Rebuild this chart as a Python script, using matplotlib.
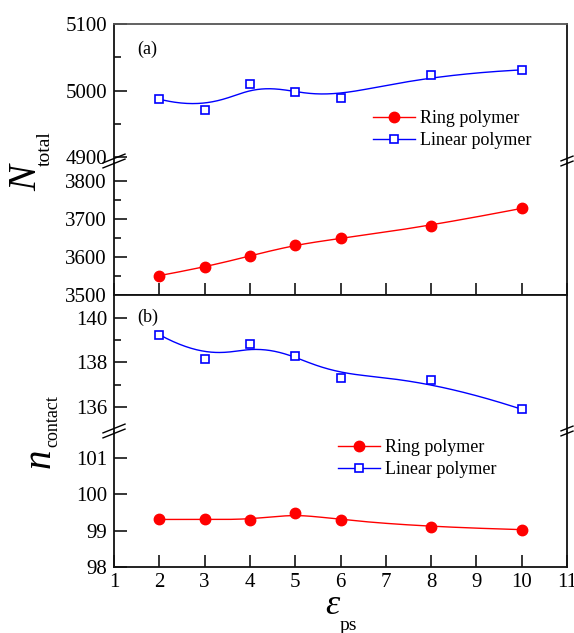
import numpy as np
import matplotlib
matplotlib.use("Agg")
import matplotlib.pyplot as plt
from matplotlib.lines import Line2D

# ---------------- data ----------------
eps_ps = [2, 3, 4, 5, 6, 8, 10]
ntotal_ring = [3551, 3573, 3603, 3632, 3649, 3682, 3728]
ntotal_linear = [4987, 4970, 5010, 4998, 4989, 5024, 5031]
ncontact_ring = [99.31, 99.31, 99.29, 99.48, 99.29, 99.10, 99.03]
ncontact_linear = [139.25, 138.14, 138.82, 138.31, 137.32, 137.23, 135.90]

xticks = list(range(1, 12))
a_up_ticks = [4900, 5000, 5100]
a_lo_ticks = [3500, 3600, 3700, 3800]
b_up_ticks = [136, 138, 140]
b_lo_ticks = [98, 99, 100, 101]

plt.rcParams['font.family'] = ['Liberation Serif', 'DejaVu Serif']

W, H = 574, 633
fig = plt.figure(figsize=(W / 100, H / 100), dpi=100)


def fx(px):
    return px / W


def fy(py):
    return 1 - py / H


L, R = 114, 567
def make_ax(top, bottom):
    return fig.add_axes([fx(L), fy(bottom), fx(R) - fx(L), fy(top) - fy(bottom)])


a_up = make_ax(24, 163)
a_lo = make_ax(163, 295)
b_up = make_ax(295, 432)
b_lo = make_ax(432, 567)


def bspline(xs, ys, n=300):
    P = np.column_stack([xs, ys]).astype(float)
    k = 3
    m = len(P)
    knots = np.concatenate([[0] * k, np.arange(m - k + 1), [m - k] * k]).astype(float)
    t = np.linspace(0, m - k, n)
    t[-1] -= 1e-9

    def basis(i, d):
        if d == 0:
            return ((knots[i] <= t) & (t < knots[i + 1])).astype(float)
        out = np.zeros_like(t)
        den1 = knots[i + d] - knots[i]
        den2 = knots[i + d + 1] - knots[i + 1]
        if den1 > 0:
            out += (t - knots[i]) / den1 * basis(i, d - 1)
        if den2 > 0:
            out += (knots[i + d + 1] - t) / den2 * basis(i + 1, d - 1)
        return out

    B = np.array([basis(i, k) for i in range(m)])
    C = B.T @ P
    return C[:, 0], C[:, 1]


RED = '#ff0000'
BLUE = '#0000ff'
ring_kw = dict(marker='o', ms=7.5, color=RED, mfc=RED, mec=RED, ls='none', zorder=3)
lin_kw = dict(marker='s', ms=5.2, color=BLUE, mfc='white', mec=BLUE, mew=1.2, ls='none', zorder=3)


def plot_series(ax, x, y, kw, color):
    cx, cy = bspline(x, y)
    ax.plot(cx, cy, color=color, lw=1.0, zorder=2)
    ax.plot(x, y, **kw)


plot_series(a_up, eps_ps, ntotal_linear, lin_kw, BLUE)
plot_series(a_lo, eps_ps, ntotal_ring, ring_kw, RED)
plot_series(b_up, eps_ps, ncontact_linear, lin_kw, BLUE)
plot_series(b_lo, eps_ps, ncontact_ring, ring_kw, RED)

a_up.set_ylim(4891, 5100)
a_lo.set_ylim(3500, 3847.4)
b_up.set_ylim(134.88, 141.03)
b_lo.set_ylim(98, 101.72)

SP = 1.3
for ax in (a_up, a_lo, b_up, b_lo):
    ax.set_xlim(1, 11)
    for s in ax.spines.values():
        s.set_linewidth(SP)
        s.set_color('#111111')
    ax.tick_params(axis='y', which='major', direction='in', length=9, width=1.1,
                   labelsize=15, pad=5, right=False)
    ax.tick_params(axis='y', which='minor', direction='in', length=5, width=1.1, right=False)
    ax.tick_params(axis='x', which='major', direction='in', length=9, width=1.1,
                   labelsize=15, pad=4, top=False)

a_up.spines['bottom'].set_visible(False)
a_lo.spines['top'].set_visible(False)
b_up.spines['bottom'].set_visible(False)
b_lo.spines['top'].set_visible(False)
a_up.spines['top'].set_color('#555555')

a_up.set_yticks(a_up_ticks)
a_up.set_yticks([4950, 5050], minor=True)
a_lo.set_yticks(a_lo_ticks)
a_lo.set_yticks([3550, 3650, 3750], minor=True)
b_up.set_yticks(b_up_ticks)
b_up.set_yticks([137, 139], minor=True)
b_lo.set_yticks(b_lo_ticks)

for ax in (a_up, b_up):
    ax.set_xticks([])
a_lo.set_xticks(xticks)
a_lo.set_xticklabels([])
b_lo.set_xticks(xticks)
b_lo.set_xticklabels([str(v) for v in xticks])

# panel labels
a_up.text(fx(137), fy(49), '(a)', transform=fig.transFigure, fontsize=13, va='center', ha='left')
b_up.text(fx(137), fy(317), '(b)', transform=fig.transFigure, fontsize=13, va='center', ha='left')

# legends
handles = [Line2D([], [], lw=1.0, **{k: v for k, v in ring_kw.items() if k not in ('ls', 'zorder')}),
           Line2D([], [], lw=1.0, **{k: v for k, v in lin_kw.items() if k not in ('ls', 'zorder')})]
labels = ['Ring polymer', 'Linear polymer']
leg_kw = dict(loc='upper left', frameon=False, fontsize=13, borderpad=0, borderaxespad=0,
              handlelength=2.3, handletextpad=0.3, labelspacing=0.3, numpoints=1)
a_up.legend(handles, labels, bbox_to_anchor=(fx(373), fy(110)), bbox_transform=fig.transFigure, **leg_kw)
b_lo.legend(handles, labels, bbox_to_anchor=(fx(338), fy(439)), bbox_transform=fig.transFigure, **leg_kw)

# break marks
def brk(ycen, x, half):
    for dy in (-2.5, 2.5):
        fig.add_artist(Line2D([fx(x - half), fx(x + half)],
                              [fy(ycen + dy + half * 0.4), fy(ycen + dy - half * 0.4)],
                              color='black', lw=1.0, transform=fig.transFigure))

brk(161, L, 11)
brk(161, R, 6)
brk(431, L, 11)
brk(431, R, 6)

# axis labels
fig.text(fx(27), fy(178), 'N', rotation=90, fontsize=28, style='italic', ha='center', va='center')
fig.text(fx(45), fy(149), 'total', rotation=90, fontsize=14, ha='center', va='center')
fig.text(fx(40), fy(458), 'n', rotation=90, fontsize=28, style='italic', ha='center', va='center')
fig.text(fx(53), fy(421), 'contact', rotation=90, fontsize=13, ha='center', va='center')
fig.text(fx(332), fy(605), 'ε', fontsize=26, style='italic', ha='center', va='center')
fig.text(fx(348), fy(626), 'ps', fontsize=14, ha='center', va='center')

fig.savefig('out.png', dpi=100)
